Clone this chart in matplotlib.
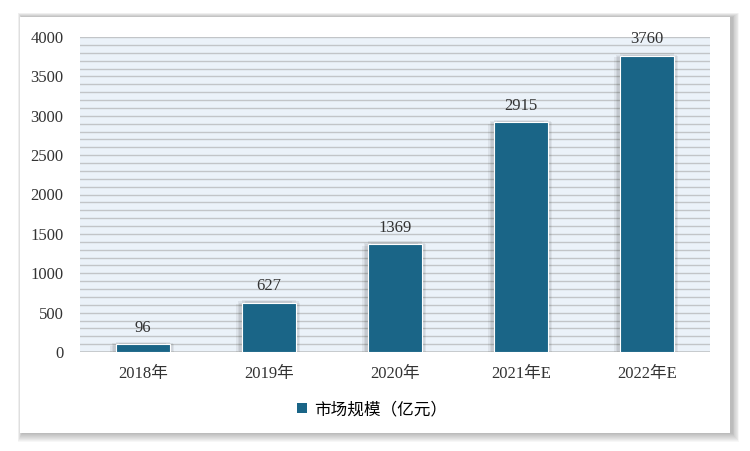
import matplotlib.pyplot as plt
import matplotlib.patches as mpat
import matplotlib.patheffects as pe
from matplotlib.ticker import MultipleLocator

plt.rcParams['font.family'] = ['Liberation Serif', 'Noto Sans CJK SC']

years = ['2018年', '2019年', '2020年', '2021年E', '2022年E']
values = [96, 627, 1369, 2915, 3760]
series_name = '市场规模（亿元）'

BAR_COLOR = '#1A6587'
W, H = 750, 451

fig = plt.figure(figsize=(7.5, 4.51), dpi=100)
fig.patch.set_facecolor('white')

# card with soft shadow
x0, y0, x1, y1 = 20, 17, 730, 433
for i in range(9, 0, -1):
    fig.patches.append(mpat.Rectangle(
        ((x0 - i * 0.5 + 2) / W, 1 - (y1 + i) / H),
        (x1 - x0 + i * 1.3) / W, (y1 - y0 + i * 1.5) / H,
        transform=fig.transFigure, facecolor='#000000',
        alpha=0.03, edgecolor='none', zorder=0))
fig.patches.append(mpat.Rectangle(
    (x0 / W, 1 - y1 / H), (x1 - x0) / W, (y1 - y0) / H,
    transform=fig.transFigure, facecolor='white', edgecolor='none', zorder=1))

ax = fig.add_axes([80 / W, 1 - 352 / H, 630 / W, 315 / H], zorder=2)
ax.set_facecolor('#EBF2F9')

xs = range(len(years))
bars = ax.bar(xs, values, width=0.43, color=BAR_COLOR, edgecolor='white',
              linewidth=0.8, zorder=3)
shadow = [pe.SimplePatchShadow(offset=(dx, dy), shadow_rgbFace='#000000', alpha=0.06)
          for dx, dy in [(-4, -1), (-3, 1), (-2, 0), (3, 0), (2, 1), (0, 2)]]
for b in bars:
    b.set_path_effects(shadow + [pe.Normal()])

for x, v in zip(xs, values):
    ax.text(x, v + 110, str(v), ha='center', va='bottom', fontsize=12,
            color='#333333', zorder=4)

ax.set_xlim(-0.5, len(years) - 0.5)
ax.set_ylim(0, 4000)
ax.yaxis.set_major_locator(MultipleLocator(500))
ax.yaxis.set_minor_locator(MultipleLocator(100))
ax.grid(axis='y', which='both', color='#C2C5C8', linewidth=1.0, zorder=1)
ax.set_axisbelow(True)

ax.set_xticks(list(xs))
ax.set_xticklabels(years, fontsize=12, color='#333333')
ax.tick_params(axis='x', length=0, pad=10)
ax.tick_params(axis='y', which='both', length=0, pad=12, labelsize=12,
               labelcolor='#333333')
for s in ax.spines.values():
    s.set_visible(False)
ax.axhline(0, color='#C2C5C8', linewidth=1.2, zorder=2)

handle = mpat.Patch(facecolor=BAR_COLOR, edgecolor='none')
fig.legend([handle], [series_name], loc='center', bbox_to_anchor=(372 / W, 1 - 410 / H),
           frameon=False, fontsize=12, handlelength=0.6, handleheight=0.6,
           handletextpad=0.4)

fig.savefig('out.png', dpi=100)
